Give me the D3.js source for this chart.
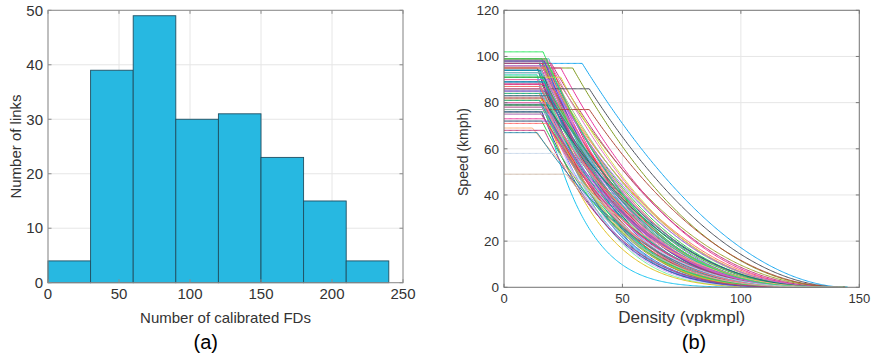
<!DOCTYPE html>
<html>
<head>
<meta charset="utf-8">
<script src="https://cdn.jsdelivr.net/npm/d3@7"></script>
<style>
  html, body { margin: 0; padding: 0; background: #fff; }
  svg { display: block; }
  text { font-family: "Liberation Sans", Arial, Helvetica, sans-serif; }
</style>
</head>
<body>
<svg id="chart" width="871" height="358"></svg>
<script>
// ---------------- Data: panel (a) histogram ----------------
const binEdges = [0, 30, 60, 90, 120, 150, 180, 210, 240];
const linkCounts = [4, 39, 49, 30, 31, 23, 15, 4];
const histXTicks = [0, 50, 100, 150, 200, 250];
const histYTicks = [0, 10, 20, 30, 40, 50];

// ---------------- Data: panel (b) calibrated fundamental diagrams ----------------
// free-flow speed (kmph), critical density & jam density (vpkmpl), decay exponent
const freeFlowSpeed = [
  99,98,99,97,98,96,99,95,98,97,94,99,96,93,98,95,97,99,94,96,
  98,93,97,95,99,96,94,98,97,93,95,99,96,98,94,97,93,95,98,96,
  92,91,90,89,88,87,86,86,85,84,92,90,88,91,87,85,89,86,84,90,88,91,85,87,89,
  83,82,81,80,80,79,79,78,77,77,76,76,75,83,81,78,80,82,79,77,75,76,78,81,80,
  73,72,72,71,69,68,67,
  102,58,49
];
const criticalDensity = [
  17,16,18,15,17,16,19,14,18,16,15,17,20,15,16,29,33,18,16,17,
  15,19,16,14,17,18,16,19,15,17,24,16,18,17,15,20,16,18,17,15,
  14,24,16,17,15,18,36,16,17,15,14,19,16,17,18,15,16,20,17,14,18,16,19,15,17,
  16,17,15,18,16,19,17,16,36,18,15,17,16,19,17,20,15,16,18,17,19,16,18,15,17,
  17,16,19,18,12,17,14,
  16.5,23.6,26.3
];
const decayExponent = [
  3.2,2.6,4.1,2.3,3.6,2.9,4.6,2.5,3.0,3.8,2.8,2.2,3.4,4.4,2.7,2.2,1.9,3.9,3.1,2.4,
  5.2,3.5,2.9,4.0,2.6,3.3,3.7,2.5,4.8,3.0,2.4,3.6,2.8,4.2,3.2,2.3,3.9,2.7,3.4,3.1,
  7.0,2.6,3.3,2.9,4.3,3.1,2.0,3.6,2.7,5.0,3.9,2.5,3.0,3.5,2.8,4.6,3.2,2.6,3.8,2.9,3.4,2.7,4.1,3.0,3.6,
  3.0,3.7,2.6,4.2,3.3,2.8,3.9,3.1,2.1,4.5,2.7,3.5,3.0,2.5,4.0,3.2,2.9,3.6,2.4,3.8,3.3,4.3,2.8,3.1,3.5,
  3.0,3.6,2.7,3.2,2.5,3.9,2.9,
  3.0,3.0,3.3
];
const jamDensity = [
  143,142,144,141,143,142,145,140,143,142,141,144,143,142,143,144,145,142,143,141,
  144,142,143,141,144,143,142,141,145,143,142,143,141,144,142,143,141,142,144,143,
  145,143,142,143,141,142,144,143,142,141,143,144,142,141,143,142,144,142,141,143,142,144,141,143,142,
  142,143,141,142,144,143,141,142,144,143,142,141,143,142,144,141,143,142,141,144,143,142,141,143,142,
  142,143,141,142,143,141,142,
  143,143,143
];
const fdXTicks = [0, 50, 100, 150];
const fdYTicks = [0, 20, 40, 60, 80, 100, 120];

// ---------------- Styles ----------------
const palette = ["#e8359a","#2fcf4a","#8a5cc8","#ff6a6a","#0f9fb8","#c0397a","#5fd0c8","#ff9a5a",
  "#3b5fd0","#c890d0","#19c99a","#a0a030","#ff1f6a","#3cc8d8","#6a8cff","#d0609a","#20e070","#9a6a3a",
  "#2a8a8a","#e0c020","#70f0a0","#b060f0","#ee3333","#1a7070","#90c090","#d0a0ff","#4a4aa0","#e070c0",
  "#10b0a0","#f07a9a"];
const specialColors = {16:"#1aa8f0", 15:"#7f9a20", 40:"#1cc4f0", 41:"#d6e040", 46:"#4a4f5a",
  73:"#b0483a", 94:"#ffb27c", 96:"#2a8aa8", 97:"#2ee860", 98:"#c9d8ea", 99:"#cdb9a8"};

const svg = d3.select("#chart");
svg.append("rect").attr("width", 871).attr("height", 358).attr("fill", "#fff");

const gridColor = "#e6e6e6";
const tickTextColor = "#333";

function drawAxesFrame(g, x, y, xTicks, yTicks, boxColor, fontSize, fontSizeX) {
  const [x0, x1] = x.range();
  const [y0, y1] = y.range();
  const tl = 3.5;
  xTicks.forEach(t => {
    const px = x(t);
    g.append("line").attr("x1", px).attr("x2", px).attr("y1", y0).attr("y2", y0 - tl).attr("stroke", boxColor);
    g.append("line").attr("x1", px).attr("x2", px).attr("y1", y1).attr("y2", y1 + tl).attr("stroke", boxColor);
    g.append("text").attr("x", px).attr("y", y0 + 6).attr("dy", "0.71em")
      .attr("text-anchor", "middle").attr("font-size", fontSizeX).attr("fill", tickTextColor).text(t);
  });
  yTicks.forEach(t => {
    const py = y(t);
    g.append("line").attr("x1", x0).attr("x2", x0 + tl).attr("y1", py).attr("y2", py).attr("stroke", boxColor);
    g.append("line").attr("x1", x1).attr("x2", x1 - tl).attr("y1", py).attr("y2", py).attr("stroke", boxColor);
    g.append("text").attr("x", x0 - 5).attr("y", py).attr("dy", "0.35em")
      .attr("text-anchor", "end").attr("font-size", fontSize).attr("fill", tickTextColor).text(t);
  });
  g.append("rect").attr("x", x0).attr("y", y1).attr("width", x1 - x0).attr("height", y0 - y1)
    .attr("fill", "none").attr("stroke", boxColor).attr("stroke-width", 1);
}

function drawGrid(g, x, y, xTicks, yTicks) {
  const [x0, x1] = x.range();
  const [y0, y1] = y.range();
  xTicks.forEach(t => g.append("line").attr("x1", x(t)).attr("x2", x(t)).attr("y1", y0).attr("y2", y1)
    .attr("stroke", gridColor).attr("stroke-width", 1));
  yTicks.forEach(t => g.append("line").attr("x1", x0).attr("x2", x1).attr("y1", y(t)).attr("y2", y(t))
    .attr("stroke", gridColor).attr("stroke-width", 1));
}

// ---------------- Panel (a) ----------------
{
  const g = svg.append("g");
  const x = d3.scaleLinear().domain([0, 250]).range([48, 403]);
  const y = d3.scaleLinear().domain([0, 50]).range([282.7, 10.3]);
  drawGrid(g, x, y, histXTicks, histYTicks);
  const bins = linkCounts.map((c, i) => ({x0: binEdges[i], x1: binEdges[i + 1], c}));
  g.selectAll("rect.bar").data(bins).join("rect").attr("class", "bar")
    .attr("x", d => x(d.x0)).attr("width", d => x(d.x1) - x(d.x0))
    .attr("y", d => y(d.c)).attr("height", d => y(0) - y(d.c))
    .attr("fill", "#27b8e1").attr("stroke", "#1f4f62").attr("stroke-width", 0.9);
  drawAxesFrame(g, x, y, histXTicks, histYTicks, "#8c8c8c", 15, 15);
  g.append("text").attr("x", (x(0) + x(250)) / 2).attr("y", 323.3).attr("text-anchor", "middle")
    .attr("font-size", 15).attr("fill", tickTextColor).text("Number of calibrated FDs");
  g.append("text").attr("transform", "translate(20.5,146.5) rotate(-90)").attr("text-anchor", "middle")
    .attr("font-size", 15).attr("fill", tickTextColor).text("Number of links");
  g.append("text").attr("x", 205.8).attr("y", 349).attr("text-anchor", "middle")
    .attr("font-family", "'Liberation Serif', 'Times New Roman', serif").attr("font-size", 20)
    .attr("fill", "#000").text("(a)");
}

// ---------------- Panel (b) ----------------
{
  const g = svg.append("g");
  const x = d3.scaleLinear().domain([0, 150]).range([504, 859.3]);
  const y = d3.scaleLinear().domain([0, 120]).range([287.3, 10.3]);
  drawGrid(g, x, y, fdXTicks, fdYTicks);
  const line = d3.line().x(d => x(d[0])).y(d => y(d[1]));
  const curves = freeFlowSpeed.map((vf, i) => {
    const kc = criticalDensity[i], kj = jamDensity[i], n = decayExponent[i];
    const pts = [];
    for (let k = 0; k <= kj + 1e-9; k += 0.5) {
      const v = k <= kc ? vf : vf * Math.pow(Math.max(0, (kj - k) / (kj - kc)), n);
      pts.push([k, v]);
    }
    pts.push([kj, 0]);
    return {i, pts};
  });
  g.append("clipPath").attr("id", "clipb").append("rect")
    .attr("x", 504).attr("y", 10.3).attr("width", 355.3).attr("height", 277);
  g.append("g").attr("clip-path", "url(#clipb)").selectAll("path").data(curves).join("path")
    .attr("d", d => line(d.pts)).attr("fill", "none")
    .attr("stroke", d => specialColors[d.i] || palette[d.i % palette.length])
    .attr("stroke-width", 1);
  drawAxesFrame(g, x, y, fdXTicks, fdYTicks, "#7a7a7a", 13.5, 13);
  g.append("text").attr("x", (x(0) + x(150)) / 2).attr("y", 323.3).attr("text-anchor", "middle")
    .attr("font-size", 16).attr("textLength", 127).attr("lengthAdjust", "spacingAndGlyphs")
    .attr("fill", tickTextColor).text("Density (vpkmpl)");
  g.append("text").attr("transform", "translate(468,152) rotate(-90)").attr("text-anchor", "middle")
    .attr("font-size", 14).attr("fill", tickTextColor).text("Speed (kmph)");
  g.append("text").attr("x", 694).attr("y", 349).attr("text-anchor", "middle")
    .attr("font-family", "'Liberation Serif', 'Times New Roman', serif").attr("font-size", 20)
    .attr("fill", "#000").text("(b)");
}
</script>
</body>
</html>
